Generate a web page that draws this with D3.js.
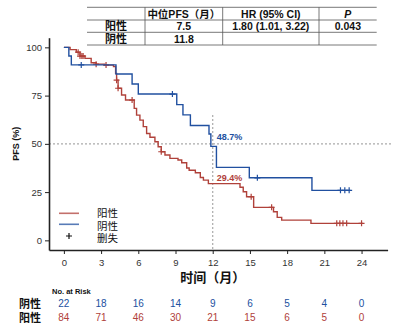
<!DOCTYPE html>
<html>
<head>
<meta charset="utf-8">
<script src="https://cdn.jsdelivr.net/npm/d3@7"></script>
<style>
  body { margin: 0; background: #fff; }
  svg { font-family: "Liberation Sans", Arial, "Noto Sans CJK SC", sans-serif; }
  .tick text { fill: #333; font-size: 9.5px; }
</style>
</head>
<body>
<div id="chart"></div>
<script>
// KM step data (time in months, survival %)
var negTimes = [0, 0.4, 0.6, 4.2, 5.5, 6.0, 9.1, 9.6, 10.2, 11.7, 11.85, 12.3, 14.95, 20.0];
var negSurv  = [100, 95.5, 90.9, 86.2, 81.0, 75.8, 70.3, 65.0, 59.5, 55.1, 48.7, 37.8, 32.4, 25.9];
var negEnd = 23.1;
var negCensor = [1.4, 8.75, 15.6, 22.3, 22.65, 23.0];

var posTimes = [0, 0.5, 1.0, 1.3, 1.7, 2.2, 2.6, 3.3, 4.0, 4.17, 4.25, 4.37, 4.65, 4.97, 5.67, 5.86, 6.13, 6.4, 6.67, 6.94, 7.34, 7.6, 7.85, 8.15, 8.55, 9.2, 9.5, 9.9, 10.1, 10.6, 11.0, 11.25, 11.65, 14.2, 14.46, 14.73, 15.3, 16.9, 17.2, 17.56, 19.92];
var posSurv  = [100, 98.8, 97.5, 95.5, 94.3, 92.0, 91.3, 90.8, 90.0, 86.5, 83.0, 78.8, 75.3, 72.7, 68.4, 64.9, 62.3, 58.9, 55.4, 53.4, 51.1, 48.5, 45.9, 44.2, 42.5, 41.6, 40.2, 37.5, 36.3, 35.0, 32.6, 31.2, 29.4, 27.5, 25.2, 22.6, 17.1, 14.8, 11.9, 10.5, 8.8];
var posEnd = 24.1;
var posCensor = [1.15, 1.3, 1.45, 1.55, 2.6, 3.4, 4.25, 4.37, 5.5, 7.85, 15.1, 16.75, 22.0, 22.25, 22.5, 22.8, 24.0];

var xTicks = [0, 3, 6, 9, 12, 15, 18, 21, 24];
var yTicks = [0, 25, 50, 75, 100];
var riskNeg = [22, 18, 16, 14, 9, 6, 5, 4, 0];
var riskPos = [84, 71, 46, 30, 21, 15, 6, 5, 0];

var tableHeader = ["", "中位PFS（月）", "HR (95% CI)", "P"];
var tableRows = [
  ["阳性", "7.5", "1.80 (1.01, 3.22)", "0.043"],
  ["阴性", "11.8", "", ""]
];

var red = "#b0413a";
var blue = "#2150a0";

var svg = d3.select("#chart").append("svg")
  .attr("width", 413)
  .attr("height", 332);

var x = d3.scaleLinear().domain([-1.2, 26.1]).range([49, 387.6]);
var y = d3.scaleLinear().domain([-5, 105]).range([250, 37.7]);

// reference lines
svg.append("line")
  .attr("x1", 49).attr("x2", 393)
  .attr("y1", y(50)).attr("y2", y(50))
  .attr("stroke", "#aaa").attr("stroke-width", 1.2)
  .attr("stroke-dasharray", "2,2");
svg.append("line")
  .attr("x1", x(12)).attr("x2", x(12))
  .attr("y1", 115).attr("y2", y(-5))
  .attr("stroke", "#aaa").attr("stroke-width", 1.2)
  .attr("stroke-dasharray", "2,2");

// axes
var xAxis = svg.append("g")
  .attr("transform", "translate(0," + y(-5) + ")")
  .call(d3.axisBottom(x).tickValues(xTicks).tickSize(4).tickSizeOuter(0));
var yAxis = svg.append("g")
  .attr("transform", "translate(" + x(-1.2) + ",0)")
  .call(d3.axisLeft(y).tickValues(yTicks).tickSize(4).tickSizeOuter(0));
[xAxis, yAxis].forEach(function(a) {
  a.select(".domain").attr("stroke", "#222").attr("stroke-width", 1.6);
  a.selectAll(".tick line").attr("stroke", "#222");
});
xAxis.selectAll(".tick text").attr("dy", "0.9em");

// step function helpers
function stepPoints(times, surv, end) {
  var pts = [];
  times.forEach(function(t, i) {
    if (i > 0) pts.push([t, surv[i - 1]]);
    pts.push([t, surv[i]]);
  });
  pts.push([end, surv[surv.length - 1]]);
  return pts;
}
function survAt(times, surv, t) {
  var v = surv[0];
  times.forEach(function(tt, i) { if (tt <= t) v = surv[i]; });
  return v;
}

var line = d3.line().x(d => x(d[0])).y(d => y(d[1]));

function drawCurve(times, surv, end, cens, color) {
  svg.append("path")
    .datum(stepPoints(times, surv, end))
    .attr("fill", "none")
    .attr("stroke", color)
    .attr("stroke-width", 1.4)
    .attr("d", line);
  svg.selectAll(null)
    .data(cens)
    .enter()
    .append("path")
    .attr("transform", d => "translate(" + x(d) + "," + y(survAt(times, surv, d)) + ")")
    .attr("d", "M-3,0H3M0,-3V3")
    .attr("stroke", color)
    .attr("stroke-width", 1.2);
}
drawCurve(posTimes, posSurv, posEnd, posCensor, red);
drawCurve(negTimes, negSurv, negEnd, negCensor, blue);

// annotations
svg.append("text").attr("x", x(12) + 4).attr("y", y(48.7) - 6)
  .attr("fill", blue).attr("font-size", 9).attr("font-weight", "bold").text("48.7%");
svg.append("text").attr("x", x(12) + 4).attr("y", y(29.4) - 3)
  .attr("fill", red).attr("font-size", 9).attr("font-weight", "bold").text("29.4%");

// axis titles
svg.append("text")
  .attr("transform", "translate(19," + y(50) + ") rotate(-90)")
  .attr("text-anchor", "middle")
  .attr("font-size", 9).attr("font-weight", "bold").attr("fill", "#111")
  .text("PFS (%)");
svg.append("text")
  .attr("x", x(12)).attr("y", 282)
  .attr("text-anchor", "middle")
  .attr("font-size", 13).attr("font-weight", "bold").attr("fill", "#111")
  .text("时间（月）");

// legend
var legend = svg.append("g");
[["阳性", red], ["阴性", blue]].forEach(function(d, i) {
  legend.append("line")
    .attr("x1", 59).attr("x2", 79)
    .attr("y1", 213.3 + i * 11).attr("y2", 213.3 + i * 11)
    .attr("stroke", d[1]).attr("stroke-width", 1.6).attr("opacity", 0.75);
  legend.append("text")
    .attr("x", 97).attr("y", 217 + i * 12.5)
    .attr("font-size", 10.5).attr("fill", "#111")
    .text(d[0]);
});
legend.append("path")
  .attr("transform", "translate(69,236)")
  .attr("d", "M-3,0H3M0,-3V3")
  .attr("stroke", "#111").attr("stroke-width", 1.2);
legend.append("text")
  .attr("x", 97).attr("y", 242)
  .attr("font-size", 10.5).attr("fill", "#111")
  .text("删失");

// risk table
svg.append("text").attr("x", 52).attr("y", 294)
  .attr("font-size", 7.5).attr("font-weight", "bold").attr("fill", "#111")
  .text("No. at Risk");
svg.append("text").attr("x", 19).attr("y", 308)
  .attr("font-size", 11).attr("font-weight", "bold").attr("fill", "#111").text("阴性");
svg.append("text").attr("x", 19).attr("y", 322)
  .attr("font-size", 11).attr("font-weight", "bold").attr("fill", "#111").text("阳性");
svg.selectAll(null).data(riskNeg).enter().append("text")
  .attr("x", (d, i) => x(xTicks[i])).attr("y", 307)
  .attr("text-anchor", "middle").attr("font-size", 10).attr("fill", blue)
  .text(d => d);
svg.selectAll(null).data(riskPos).enter().append("text")
  .attr("x", (d, i) => x(xTicks[i])).attr("y", 321)
  .attr("text-anchor", "middle").attr("font-size", 10).attr("fill", red)
  .text(d => d);

// summary table
var colX = [87, 145, 222.7, 319, 376.7];
var rowY = [7.3, 20, 32.3, 45];
var tbl = svg.append("g");
rowY.forEach(function(ry) {
  tbl.append("line").attr("x1", colX[0]).attr("x2", colX[4])
    .attr("y1", ry).attr("y2", ry).attr("stroke", "#555").attr("stroke-width", 0.8);
});
[1, 2, 3].forEach(function(c) {
  tbl.append("line").attr("x1", colX[c]).attr("x2", colX[c])
    .attr("y1", rowY[0]).attr("y2", rowY[3]).attr("stroke", "#555").attr("stroke-width", 0.8);
});
[tableHeader].concat(tableRows).forEach(function(row, r) {
  row.forEach(function(cell, c) {
    tbl.append("text")
      .attr("x", (colX[c] + colX[c + 1]) / 2)
      .attr("y", (rowY[r] + rowY[r + 1]) / 2 + 4)
      .attr("text-anchor", "middle")
      .attr("font-size", c === 0 ? 11 : 10.5)
      .attr("font-weight", "bold")
      .attr("font-style", r === 0 && c === 3 ? "italic" : "normal")
      .attr("fill", "#111")
      .text(cell);
  });
});
</script>
</body>
</html>
